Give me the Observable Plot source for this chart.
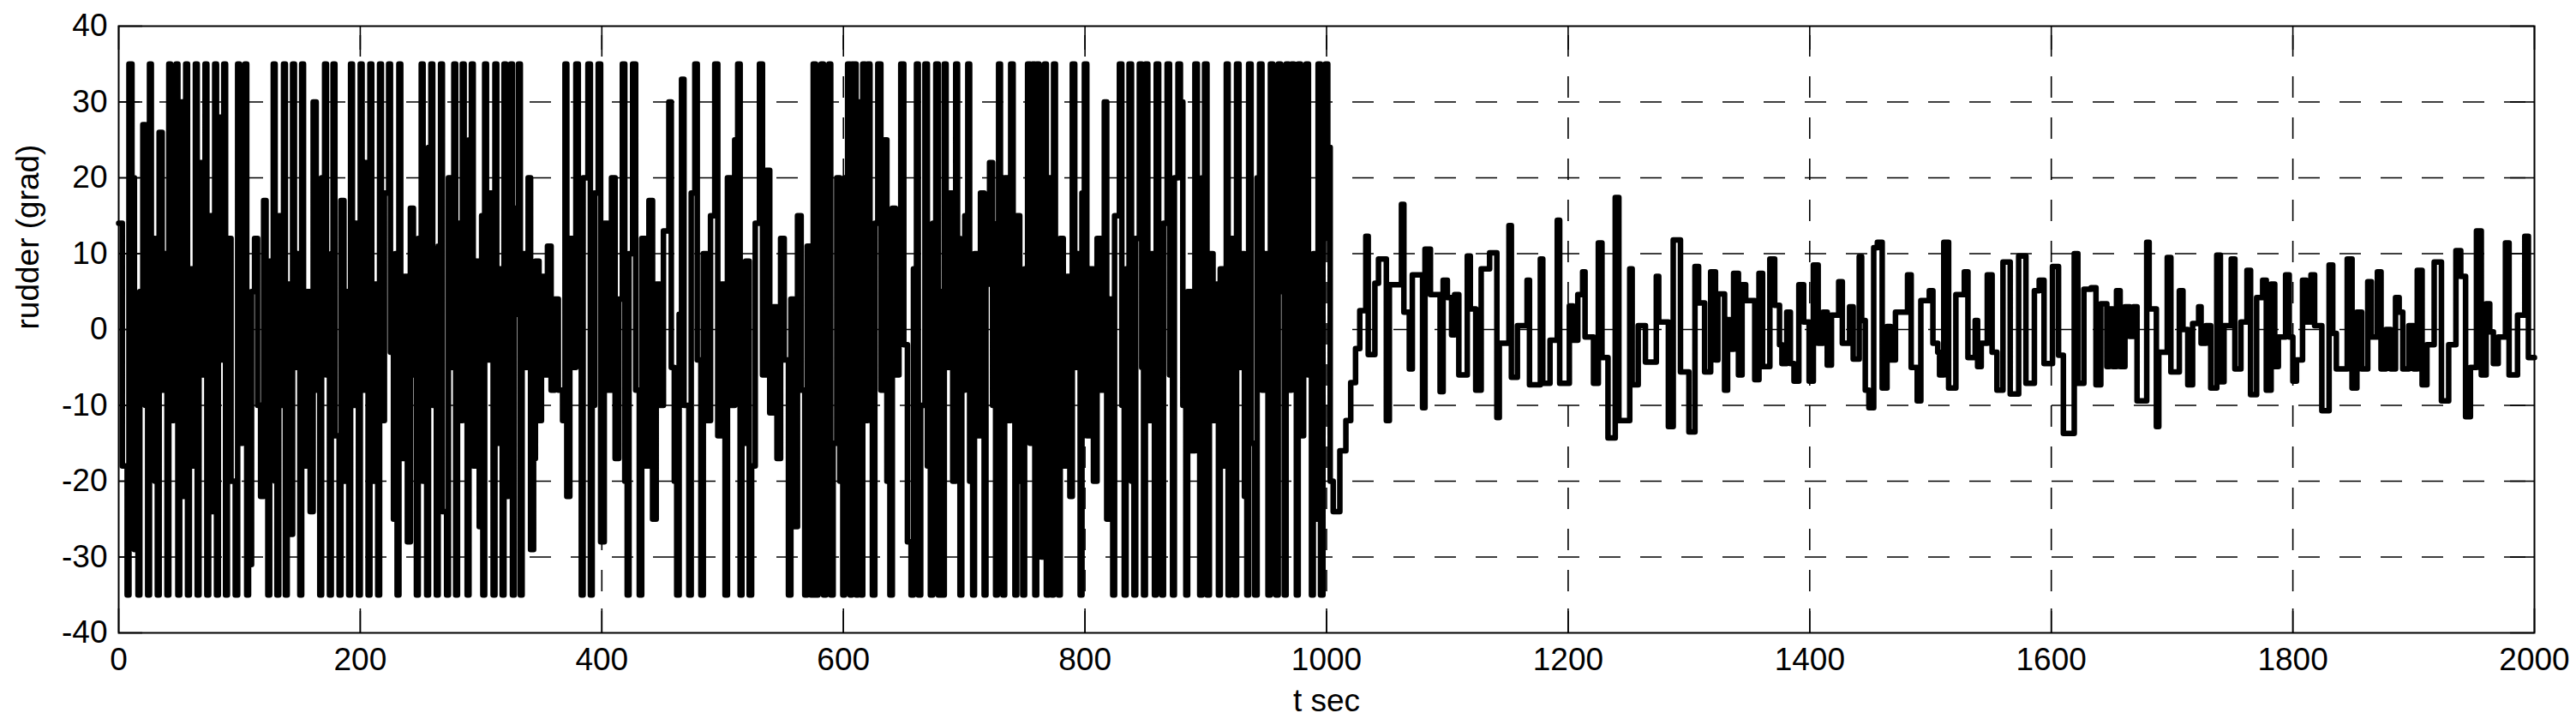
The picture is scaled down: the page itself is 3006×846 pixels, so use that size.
<!DOCTYPE html>
<html>
<head>
<meta charset="utf-8">
<script src="https://cdn.jsdelivr.net/npm/d3@7"></script>
<script src="https://cdn.jsdelivr.net/npm/@observablehq/plot@0.6"></script>
<style>
  html, body { margin: 0; padding: 0; background: #fff; }
  #chart svg { display: block; }
</style>
</head>
<body>
<div id="chart"></div>
<script>
// Tick labels and grid positions
const xTicks = [0, 200, 400, 600, 800, 1000, 1200, 1400, 1600, 1800, 2000];
const yTicks = [-40, -30, -20, -10, 0, 10, 20, 30, 40];
const xGrid = [200, 400, 600, 800, 1000, 1200, 1400, 1600, 1800];
const yGrid = [-30, -20, -10, 0, 10, 20, 30];
const xLabel = "t sec";
const yLabel = "rudder (grad)";

// Rudder signal (zero-order hold), [time s, rudder grad] — phase 1: saturated bang-bang (0–1005 s)
const rudderPhase1 = [
[0,14],[3,-18],[7,-35],[8.5,35],[11,20],[13,-29],[16,-35],[17.5,5],[20,27],[22,-10],
[24,-35],[25.5,35],[27,12],[30,-20],[32,-35],[33.5,26],[36,-8],[38.5,10],[40,-35],[41.5,35],
[43,-12],[45.5,18],[47.5,35],[49,-35],[50.5,30],[53,-22],[55.5,35],[57,-35],[58.5,8],[61,-18],
[63.5,35],[65,-35],[66.5,22],[69,-6],[71.5,35],[73,-35],[74.5,15],[77,-24],[79.5,35],[81,-35],
[82.5,28],[85,-4],[87,35],[88.5,-35],[90,12],[93,-20],[96.5,-35],[98.5,35],[100,-15],[102.5,20],
[104.5,35],[106,-35],[107.5,-31],[110,5],[112.5,12],[115,-10],[117.5,-22],[120,17],[122,-15],[123.5,-35],
[125,9],[128,35],[129.5,-20],[131,-35],[132.5,15],[135,-10],[136.5,35],[138,-35],[139.5,6],[142,-27],
[144,35],[145.5,-5],[148,10],[150,-35],[151.5,35],[153,-18],[156,5],[158.5,-24],[161,30],[163.5,-8],
[165,12],[166.5,-35],[168,20],[170.5,35],[172,-6],[174.5,-35],[176,10],[177.5,35],[179,-14],[182.5,-35],
[184,17],[186.5,-20],[188,5],[190.5,-35],[192,35],[193.5,-10],[196,14],[198.5,-35],[200,35],[201.5,-8],
[204,22],[206.5,-35],[208,35],[209.5,-20],[212,6],[214.5,-35],[216,35],[217.5,-12],[220,18],[223.5,35],
[225,-3],[227.5,-25],[229,10],[230.5,-35],[232,35],[233.5,-17],[236.5,7],[239,-28],[241.5,16],[244,-6],
[246.5,-35],[248,12],[250.5,35],[252,-20],[255,-35],[256.5,24],[258.5,35],[260,-10],[263,-35],[264.5,11],
[266.5,35],[268,-24],[271.5,-35],[273,20],[275.5,-5],[277.5,35],[279,-35],[280.5,14],[283,-12],[284.5,35],
[286,-8],[288.5,-35],[290,25],[292,35],[293.5,-18],[296,9],[298.5,-26],[300.5,15],[301.5,-35],[303,35],
[304.5,-4],[307,18],[310,-35],[311.5,35],[313,-15],[315.5,8],[317.5,-35],[319,35],[320.5,-22],[322.5,10],
[324.5,35],[326,-35],[327.5,16],[330,2],[331,35],[332.5,-35],[334,10],[336.5,-5],[339,20],[341,-29],
[343.5,-17],[345,9],[348,-12],[350,7],[353,-6],[355,11],[358,-8],[361,4],[364,-8],[367.5,-12],
[369.5,35],[371,-22],[373.5,12],[376,-5],[378.5,35],[380.5,8],[383,-35],[384.5,20],[388.5,35],[390.5,-35],
[392,-10],[394,18],[397,35],[399,-28],[402,14],[405,-8],[408,20],[411,-17],[414,4],[417,35],
[419,-20],[421,-35],[422.5,10],[425.5,35],[428,-8],[431,-35],[433,12],[436,-18],[439,17],[442,-25],
[445,6],[448,-10],[451,13],[455.5,30],[457.5,-5],[460,-20],[462,-35],[464,2],[466,33],[468,-10],
[472,-35],[474,18],[477,35],[479,-4],[482,-35],[484,10],[487,-12],[490,15],[493.5,35],[496,-14],
[499,6],[502,-35],[504,20],[507,-10],[510,25],[512.5,35],[514.5,-35],[516,-15],[519,9],[522,-35],
[524,-18],[527,14],[530.5,35],[533,-6],[536,21],[539,-11],[542,3],[545,-17],[548,12],[551,-4],
[554.5,-35],[556.5,4],[559,-26],[562,15],[565,-8],[568,-35],[570,11],[573,-35],[575,35],[577,-35],
[579,10],[581.5,35],[583.5,-35],[585.5,12],[588,35],[589.5,-35],[591.5,-15],[594.5,20],[597,-20],[599.5,-35],
[601,20],[603.5,35],[605.5,-35],[607,35],[610.5,-35],[612,30],[614.5,-35],[616,35],[618,-12],[620,35],
[622,-5],[624,-35],[626,14],[628.5,35],[631,-8],[634,25],[636,-20],[638.5,-35],[640.5,16],[643,-6],
[646,10],[647.5,35],[650,-2],[653,-28],[656,-35],[658,8],[660.5,35],[662,-35],[664,-10],[667.5,35],
[669.5,-18],[672,-35],[674,14],[676.5,35],[678.5,-35],[680,5],[682,-35],[683.5,35],[685,-5],[688,18],
[690.5,-20],[693,35],[694.5,12],[696.5,-35],[698,-8],[700.5,15],[703,35],[704.5,-20],[707,-35],[708.5,10],
[711,-14],[713.5,18],[716.5,-35],[718,6],[721,22],[723.5,-10],[726,-35],[727.5,14],[728.5,35],[730,-6],
[732,-35],[733.5,20],[736,-12],[738.5,35],[740.5,5],[742,-35],[743.5,15],[746,-20],[748.5,-35],[750,8],
[752.5,35],[754.5,-15],[756.5,35],[758.5,-35],[760,35],[762,-3],[764,-30],[766.5,35],[768,-35],[770,20],
[772.5,-35],[774,35],[775.5,-10],[778,-35],[779.5,12],[782,-18],[785,7],[787.5,-22],[789.5,35],[791.5,-5],
[794,10],[796,-35],[797.5,18],[799.5,35],[801.5,-14],[804,8],[807,-20],[810,12],[813,-8],[816,30],
[818,-25],[820.5,4],[823,-35],[824.5,15],[828.5,35],[830.5,-10],[832.5,-35],[834,8],[836.5,35],[838.5,-20],
[840.5,-35],[842,12],[845,35],[847,-5],[848.5,-35],[850,35],[852,-12],[855,10],[857.5,-35],[859,35],
[861,-8],[863.5,-35],[865,14],[868,35],[870,-6],[872.5,-35],[874,20],[877,35],[879,30],[881,-10],
[883.5,-35],[885,5],[888,-16],[891,35],[893,-4],[895,-35],[897,20],[899,35],[901,-35],[903,10],
[906,-12],[909,6],[910.5,-35],[912,8],[914.5,-18],[917,35],[918.5,-35],[920,12],[923.5,-35],[925.5,35],
[927.5,-5],[930,10],[932,-22],[934,-35],[935.5,35],[937.5,-15],[940.5,-35],[942.5,20],[944.5,35],[946.5,-8],
[949,10],[951.5,-35],[953.5,35],[955.5,-12],[958,-35],[960,35],[962,5],[965,-35],[966.5,35],[968.5,-8],
[971,35],[973,12],[975,-35],[976.5,35],[978.5,-14],[981,8],[983,35],[985,-6],[987.5,-35],[989,10],
[991,-25],[993,35],[995,-35],[997,12],[999,35],[1001,24],[1003,-20]
];

// phase 2: controller settles, small rudder activity (1005–2000 s)
const rudderPhase2 = [
[1005.5,-24],[1011,-16],[1016,-12],[1020,-7],[1024,-2.5],[1027.5,2.5],[1032.5,12.3],[1034.5,-3.3],[1040,6.1],[1043,9.3],
[1049.5,-12],[1052,5.9],[1062,16.5],[1064,2.3],[1068.5,-5.2],[1071,7.2],[1079.5,-10.3],[1081.5,10.6],[1086,4.6],[1094,-8.2],
[1096.5,6.5],[1100,4.2],[1103.5,-0.7],[1106,4.6],[1109.5,-6],[1116.5,9.7],[1119,2.7],[1123.5,-8],[1128,8],[1135,10.1],
[1141,-11.6],[1143,-1.8],[1151,13.7],[1153,-6.3],[1158,0.5],[1166,6.5],[1168,-7.3],[1177,9.3],[1179,-7.1],[1185,-1.4],
[1191,14.4],[1193,-7.1],[1201,3.1],[1204,-1.4],[1208,4.6],[1212,7.6],[1214,-1],[1221,-7.1],[1225,11.4],[1228,-3.7],
[1233,-14.3],[1239,17.4],[1242,-12],[1251,8],[1253,-7.3],[1258,0.5],[1264,-4.3],[1273,7],[1275,1],[1283,-12.8],
[1287,11.8],[1293,-5.6],[1300,-13.5],[1305,8.3],[1308,3.5],[1313,-5.6],[1318,7.6],[1322,-4],[1324,4.7],[1329.5,-8],
[1332,1.3],[1334,-2.6],[1337,7.4],[1341,-6],[1344,5.9],[1347,3.8],[1354.5,-6.6],[1358,7.4],[1361,-4.9],[1367,9.3],
[1371,3.2],[1375,-2],[1377,-4.5],[1381,2.3],[1384,-4.5],[1387,-6.8],[1391,5.9],[1395,1],[1399.5,-6.8],[1403,8.5],
[1407,-1.8],[1411,2.3],[1414.5,-4.7],[1418,1.9],[1424,6.3],[1427,-1.8],[1433,3],[1436,-3.9],[1441,9.6],[1443,1.2],
[1446,-8],[1449,-10.3],[1453,10.8],[1456,11.5],[1460,-7.7],[1464,0.4],[1467,-4],[1471,2.3],[1481,7.2],[1484,-5],
[1489,-9.4],[1492,3.8],[1499,5.1],[1502,-1.8],[1506,-3],[1507.5,-6],[1511,11.5],[1515,-7.7],[1521,4.6],[1528,7.6],
[1531,-3.7],[1537,1.2],[1539,-4.9],[1542,-1.8],[1547,7.2],[1551,-3],[1555,-8],[1560,8.9],[1566,-8.5],[1573,9.7],
[1579,-7.1],[1586,5.1],[1590,6.5],[1594,-4.5],[1601,8.3],[1606,-3.4],[1610,-13.7],[1619,10],[1622,-7.1],[1627,5.3],
[1633,5.5],[1637,-7.3],[1641,3.4],[1646,-4.9],[1648,2.7],[1651,-4.9],[1654,5.1],[1657,-4.9],[1661,3],[1665,-0.9],
[1668,3],[1671,-9.4],[1679,11.5],[1681,2.7],[1687,-12.8],[1689,-3],[1696,9.5],[1699,-5.6],[1706,5.1],[1709,0],
[1713,-7.3],[1717,0.8],[1722,3],[1724,-1.8],[1728,0.5],[1732,-7.7],[1737,9.8],[1740,-6.9],[1743,0.5],[1749,9.3],
[1752,-5.2],[1757,1],[1762,7.8],[1765,-8.6],[1770,4.2],[1775,6.5],[1778,-8],[1782,6],[1785,-4.9],[1788,-1],
[1794,7.2],[1797,-1],[1800,-6.8],[1803,-4],[1808,6.5],[1811,1],[1815,7.2],[1818,0.5],[1824,-10.7],[1830,8.5],
[1833,-0.5],[1836,-5.2],[1845,9.3],[1849,-7.7],[1853,2.3],[1857,-5.2],[1862,6.3],[1865,-1],[1870,7.6],[1873,-5.2],
[1877,0],[1881,-5.2],[1885,4.2],[1888,2.3],[1891,-5.2],[1896,0.5],[1900,-5.2],[1903,7.8],[1907,-7.3],[1911,-2],
[1917,8.9],[1923,-9.4],[1929,-2],[1935,10.4],[1939,7],[1943,-11.5],[1947,-5],[1952,13],[1956,-6],[1960,3.4],
[1963,-0.3],[1966,-4.5],[1970,-1],[1976,11.4],[1979,-6],[1986,1.9],[1992,12.3],[1995,-3.7],[2000,-3.7]
];

const data = rudderPhase1.concat(rudderPhase2).map(([t, v]) => ({t, v}));

const W = 3006, H = 846;
const mL = 138, mR = 49, mT = 30, mB = 108;
const frameW = W - mL - mR, frameH = H - mT - mB;
const tickLen = 28;
const fmt = d => String(d);
const dash = "25,23";

const chart = Plot.plot({
  width: W,
  height: H,
  marginLeft: mL,
  marginRight: mR,
  marginTop: mT,
  marginBottom: mB,
  style: {
    fontFamily: "'Liberation Sans', Arial, Helvetica, sans-serif",
    fontSize: "37px",
    background: "#fff",
    color: "#000"
  },
  x: {domain: [0, 2000]},
  y: {domain: [-40, 40]},
  marks: [
    // dashed grid
    Plot.ruleY(yGrid, {x1: 0, x2: 2000, stroke: "#000", strokeWidth: 1.7, strokeDasharray: dash}),
    Plot.ruleX(xGrid, {y1: -40, y2: 40, stroke: "#000", strokeWidth: 1.6, strokeDasharray: dash}),
    // inward tick marks on all four sides
    Plot.ruleY(yTicks, {stroke: "#000", strokeWidth: 1.6, insetRight: frameW - tickLen}),
    Plot.ruleY(yTicks, {stroke: "#000", strokeWidth: 1.6, insetLeft: frameW - tickLen}),
    Plot.ruleX(xTicks, {stroke: "#000", strokeWidth: 1.6, insetTop: frameH - tickLen}),
    Plot.ruleX(xTicks, {stroke: "#000", strokeWidth: 1.6, insetBottom: frameH - tickLen}),
    // signal
    Plot.line(data, {x: "t", y: "v", curve: "step-after", stroke: "#000", strokeWidth: 6.5,
      strokeLinejoin: "round", strokeLinecap: "round"}),
    Plot.frame({stroke: "#000", strokeWidth: 2}),
    Plot.axisX(xTicks, {anchor: "bottom", tickSize: 0, tickPadding: 17, tickFormat: fmt, label: null}),
    Plot.axisY(yTicks, {anchor: "left", tickSize: 0, tickPadding: 13, tickFormat: fmt, label: null}),
    Plot.text([xLabel], {frameAnchor: "bottom", lineAnchor: "top", dy: 65, fill: "#000"}),
    Plot.text([yLabel], {frameAnchor: "left", rotate: -90, dx: -105, fill: "#000"})
  ]
});

document.getElementById("chart").appendChild(chart);
</script>
</body>
</html>
